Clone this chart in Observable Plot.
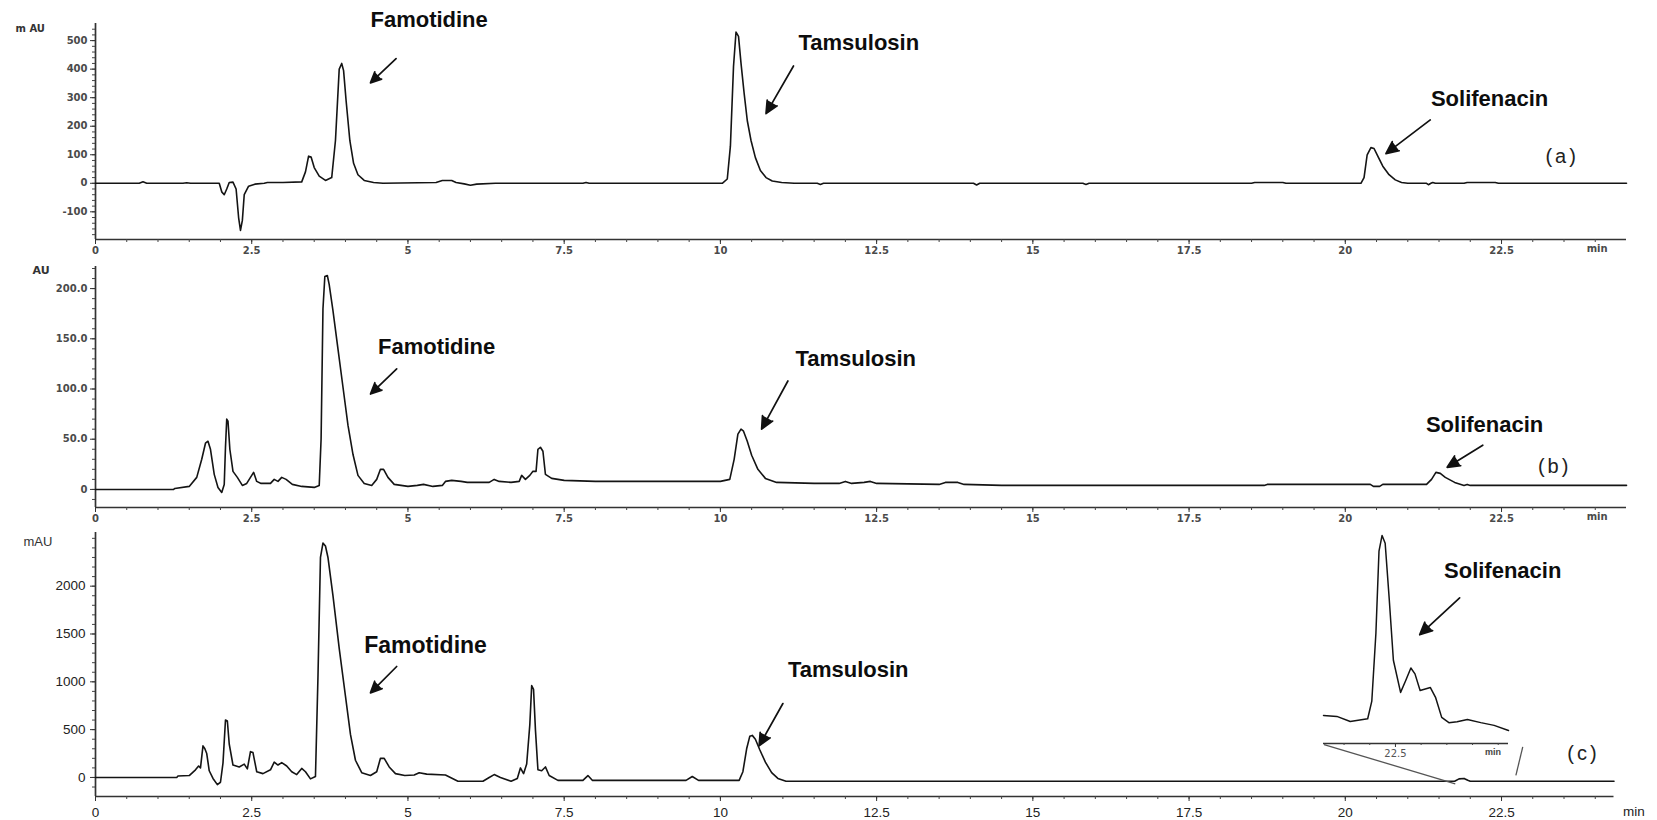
<!DOCTYPE html>
<html><head><meta charset="utf-8">
<script src="https://cdn.jsdelivr.net/npm/d3@7"></script>
<script src="https://cdn.jsdelivr.net/npm/@observablehq/plot@0.6"></script>
<style>
body{margin:0;background:#fff;}
#chart{position:relative;width:1657px;height:820px;overflow:hidden;background:#fff;}
</style></head><body><div id="chart"></div>
<script>
// ---------- x axis ----------
const xMajor = [0, 2.5, 5, 7.5, 10, 12.5, 15, 17.5, 20, 22.5];
const xMajorLabels = ["0", "2.5", "5", "7.5", "10", "12.5", "15", "17.5", "20", "22.5"];
const xMinor = d3.range(0.5, 24.5, 0.5);
const xUnit = "min";

// ---------- panel (a) : mAU ----------
const timeA = [0,0.7,0.76,0.82,1.4,1.46,1.52,1.98,2.02,2.06,2.1,2.14,2.2,2.25,2.29,2.32,2.35,2.38,2.45,2.55,2.7,2.75,3.0,3.3,3.36,3.41,3.45,3.5,3.58,3.68,3.78,3.84,3.9,3.94,3.97,4.01,4.07,4.13,4.2,4.3,4.45,4.6,5.45,5.55,5.7,5.77,5.9,6.0,6.1,6.4,7.8,7.85,7.9,10.03,10.11,10.16,10.21,10.25,10.29,10.33,10.38,10.43,10.49,10.56,10.64,10.73,10.83,10.98,11.18,11.55,11.6,11.65,14.05,14.1,14.15,15.8,15.85,15.9,18.5,18.55,18.8,19.0,19.05,20.25,20.3,20.35,20.41,20.46,20.52,20.6,20.7,20.8,20.9,21.0,21.3,21.33,21.37,21.4,21.44,21.9,21.95,22.4,22.45,24.5];
const signalA = [0,0,5,0,0,2,0,0,-30,-40,-20,3,4,-20,-120,-165,-130,-40,-10,-3,0,3,3,5,40,95,92,55,25,10,20,150,400,420,395,290,150,70,30,10,3,0,3,10,10,3,-2,-7,-3,0,0,3,0,0,15,130,410,530,515,420,315,220,150,90,45,20,8,3,0,0,-4,0,0,-6,0,0,-4,0,0,3,3,3,0,0,20,100,125,122,95,60,30,12,3,0,0,-5,0,3,0,0,3,3,0,0];
const yTicksA = [-100, 0, 100, 200, 300, 400, 500];
const yMinorA = d3.range(-180, 560, 20);
const unitA = "m AU";
const namesA = ["Famotidine", "Tamsulosin", "Solifenacin"];
const nameXA = [4.40, 11.25, 21.37];
const nameYA = [574, 493, 296];
const nameSizeA = [22, 22, 22];
const arrowFromXA = [4.81, 11.17, 21.36];
const arrowFromYA = [437, 411, 222];
const arrowToXA = [4.40, 10.73, 20.65];
const arrowToYA = [352, 244, 104];
const tagA = "(a)", tagXA = 23.47, tagYA = 93;

// ---------- panel (b) : AU ----------
const timeB = [0,1.25,1.27,1.5,1.62,1.7,1.76,1.8,1.84,1.9,1.96,2.02,2.06,2.08,2.1,2.12,2.15,2.2,2.27,2.35,2.42,2.48,2.53,2.58,2.65,2.8,2.86,2.92,2.98,3.05,3.15,3.3,3.5,3.58,3.61,3.64,3.67,3.71,3.74,3.8,3.88,3.96,4.04,4.12,4.2,4.3,4.42,4.5,4.56,4.61,4.68,4.78,5.0,5.15,5.25,5.4,5.55,5.6,5.7,5.85,5.95,6.3,6.38,6.46,6.65,6.78,6.82,6.88,6.95,7.0,7.05,7.08,7.12,7.16,7.2,7.3,7.5,8.0,10.0,10.15,10.22,10.28,10.33,10.37,10.43,10.5,10.6,10.72,10.9,11.5,11.9,12.0,12.1,12.3,12.4,12.5,13.5,13.6,13.8,13.9,14.5,18.7,18.75,20.4,20.45,20.55,20.6,21.3,21.38,21.45,21.52,21.6,21.75,21.9,21.95,22.0,24.5];
const signalB = [0,0,1,3,12,30,46,48,40,15,2,-3,5,42,70,68,40,18,12,4,6,12,17,8,6,6,10,8,12,10,5,3,2,4,50,180,212,213,204,178,140,102,64,35,14,6,4,10,20,20,12,5,3,4,5,3,4,8,9,8,7,7,10,8,7,8,14,10,14,18,18,40,42,38,15,11,9,8,8,10,30,55,60,58,48,34,20,11,7,6,6,8,6,7,8,6,5,7,7,5,4,4,5,5,3,3,5,5,10,17,16,12,7,4,5,4,4];
const yTicksB = [0, 50, 100, 150, 200];
const yMinorB = d3.range(-10, 221, 10);
const unitB = "AU";
const namesB = ["Famotidine", "Tamsulosin", "Solifenacin"];
const nameXB = [4.52, 11.20, 21.29];
const nameYB = [142, 130, 64];
const nameSizeB = [22, 22, 22];
const arrowFromXB = [4.82, 11.08, 22.2];
const arrowFromYB = [120, 108, 44];
const arrowToXB = [4.40, 10.66, 21.63];
const arrowToYB = [95, 60, 22];
const tagB = "(b)", tagXB = 23.35, tagYB = 23;

// ---------- panel (c) : mAU ----------
const timeC = [0,1.3,1.32,1.5,1.6,1.65,1.68,1.72,1.75,1.78,1.82,1.88,1.95,2.0,2.04,2.08,2.11,2.14,2.2,2.3,2.38,2.43,2.48,2.52,2.58,2.68,2.8,2.86,2.92,2.98,3.06,3.14,3.22,3.3,3.36,3.44,3.52,3.56,3.6,3.64,3.68,3.72,3.8,3.9,4.0,4.08,4.16,4.26,4.4,4.5,4.56,4.62,4.7,4.8,4.95,5.1,5.18,5.3,5.6,5.8,6.2,6.3,6.38,6.48,6.65,6.75,6.8,6.85,6.9,6.95,6.98,7.01,7.04,7.08,7.14,7.2,7.26,7.4,7.8,7.88,7.95,9.45,9.55,9.65,10.3,10.36,10.42,10.47,10.51,10.56,10.63,10.72,10.82,10.92,11.05,21.75,21.82,21.9,21.96,22.0,24.3];
const signalC = [0,0,15,20,80,120,100,330,300,250,70,-10,-75,-50,150,600,590,350,130,110,140,90,270,260,60,40,80,160,130,155,120,60,30,95,60,-15,10,1050,2300,2450,2420,2300,1900,1350,850,450,180,50,20,60,200,200,110,40,20,25,50,35,25,-40,-40,0,30,0,-40,-10,100,40,140,550,960,920,500,80,70,110,20,-30,-30,20,-30,-30,10,-30,-30,60,300,430,440,400,290,160,50,-10,-40,-40,-15,-10,-30,-40,-40];
const yTicksC = [0, 500, 1000, 1500, 2000];
const yMinorC = d3.range(-100, 2560, 100);
const unitC = "mAU";
const namesC = ["Famotidine", "Tamsulosin", "Solifenacin"];
const nameXC = [4.30, 11.08, 21.58];
const nameYC = [1381, 1127, 2155];
const nameSizeC = [23, 22, 22];
const arrowFromXC = [4.82, 11.0, 21.83];
const arrowFromYC = [1160, 773, 1878];
const arrowToXC = [4.40, 10.62, 21.19];
const arrowToYC = [884, 331, 1492];
const tagC = "(c)", tagXC = 23.81, tagYC = 254;
// lines joining the inset to the main trace
const zoomFromX = [19.66, 22.84], zoomFromY = [343, 320];
const zoomToX = [21.76, 22.73], zoomToY = [-66, 22];

// ---------- inset (zoom on Solifenacin in c) ----------
const timeI = [21.8,21.93,22.06,22.23,22.27,22.31,22.34,22.37,22.4,22.44,22.48,22.55,22.6,22.65,22.69,22.74,22.84,22.89,22.95,23.02,23.1,23.2,23.33,23.46,23.6];
const signalI = [7.7,7.2,4.6,6,15,50,92,100,96,67,36,19.5,25.6,32,29,20.5,22,17,6.7,4,4.5,5.6,4,2.6,0];
const xTicksI = [22.5];
const xMinorI = [22, 22.25, 22.75, 23, 23.25, 23.5];

// ---------- drawing ----------
const chart = document.getElementById("chart");
const FONT = "'Liberation Sans', Arial, sans-serif";
function place(el, left, top) {
  el.style.position = "absolute";
  el.style.left = left + "px";
  el.style.top = top + "px";
  chart.appendChild(el);
}
function rows(...cols) { return d3.zip(...cols); }

function panel(o) {
  const line = rows(o.time, o.signal);
  const names = rows(o.names, o.nameX, o.nameY, o.nameSize);
  const arrows = rows(o.ax1, o.ay1, o.ax2, o.ay2);
  const marks = [
    Plot.ruleX([0], {stroke: "#333", strokeWidth: 1.7}),
    Plot.ruleY([o.yDomain[0]], {stroke: "#333", strokeWidth: 1.7}),
    Plot.axisY({ticks: o.yMinor, tickSize: 3, tickFormat: () => "", label: null, stroke: "#444"}),
    Plot.axisY({ticks: o.yTicks, tickSize: 5, tickPadding: o.yPad, tickFormat: o.yFmt, label: null,
      stroke: "#333", fill: o.tickFill, fontSize: o.tickFont, fontWeight: o.tickWeight, fontFamily: o.tickFamily}),
    Plot.axisX({ticks: xMinor, tickSize: 3, tickFormat: () => "", label: null, stroke: "#444"}),
    Plot.axisX({ticks: xMajor, tickSize: 5, tickPadding: o.xPad, tickFormat: (d) => xMajorLabels[xMajor.indexOf(d)], label: null,
      stroke: "#333", fill: o.tickFill, fontSize: o.tickFont, fontWeight: o.tickWeight, fontFamily: o.tickFamily}),
    Plot.text([xUnit], {x: [o.unitX], frameAnchor: "bottom", dy: o.unitXdy, fontSize: o.tickFont, fill: o.tickFill, fontWeight: o.unitWeight, fontFamily: o.tickFamily}),
    Plot.text([o.unit], {frameAnchor: "top-left", textAnchor: "start", dx: o.unitDx, dy: o.unitDy, fontSize: o.unitSize, fontWeight: o.unitWeight, fill: "#333", fontFamily: o.tickFamily}),
    Plot.line(line, {x: "0", y: "1", stroke: "#141414", strokeWidth: 1.6, strokeLinejoin: "round"}),
    ...(o.extra || []),
    Plot.arrow(arrows, {x1: "0", y1: "1", x2: "2", y2: "3", stroke: "#111", fill: "#111", strokeWidth: 1.7, headLength: 12, headAngle: 50}),
    Plot.text(names, {x: (d) => d[1], y: (d) => d[2], text: (d) => d[0], fontSize: (d) => d[3], textAnchor: "start", fontWeight: "bold", fill: "#0d0d0d", fontFamily: FONT}),
    Plot.text([o.tag], {x: [o.tagX], y: [o.tagY], fontSize: 20, fill: "#222", fontFamily: FONT})
  ];
  const svg = Plot.plot({
    width: 1657, height: o.height,
    marginLeft: 95, marginRight: o.marginRight, marginTop: o.marginTop, marginBottom: o.marginBottom,
    x: {domain: [0, o.xMax]},
    y: {domain: o.yDomain},
    style: {background: "transparent", overflow: "visible", fontFamily: FONT},
    marks
  });
  svg.querySelectorAll("text").forEach((t) => {
    if (t.textContent === o.tag) t.setAttribute("letter-spacing", "3");
  });
  place(svg, 0, o.top);
}

panel({
  top: 0, height: 262, marginTop: 23, marginBottom: 23, marginRight: 31, xMax: 24.5,
  yDomain: [-197, 560], yTicks: yTicksA, yMinor: yMinorA, yFmt: (d) => String(d), yPad: 3, xPad: 2,
  tickFill: "#4a4a4a", tickFont: 10, tickWeight: "bold", tickFamily: "'DejaVu Sans', sans-serif",
  unit: unitA, unitDx: -80, unitDy: 1, unitSize: 10, unitWeight: "bold", unitX: 24.03, unitXdy: 12,
  time: timeA, signal: signalA, names: namesA, nameX: nameXA, nameY: nameYA, nameSize: nameSizeA,
  ax1: arrowFromXA, ay1: arrowFromYA, ax2: arrowToXA, ay2: arrowToYA,
  tag: tagA, tagX: tagXA, tagY: tagYA
});

panel({
  top: 262, height: 262, marginTop: 4, marginBottom: 17, marginRight: 31, xMax: 24.5,
  yDomain: [-18, 222], yTicks: yTicksB, yMinor: yMinorB, yFmt: (d) => d === 0 ? "0" : d.toFixed(1), yPad: 3, xPad: 2,
  tickFill: "#4a4a4a", tickFont: 10, tickWeight: "bold", tickFamily: "'DejaVu Sans', sans-serif",
  unit: unitB, unitDx: -63, unitDy: 0, unitSize: 11, unitWeight: "bold", unitX: 24.03, unitXdy: 12,
  time: timeB, signal: signalB, names: namesB, nameX: nameXB, nameY: nameYB, nameSize: nameSizeB,
  ax1: arrowFromXB, ay1: arrowFromYB, ax2: arrowToXB, ay2: arrowToYB,
  tag: tagB, tagX: tagXB, tagY: tagYB
});

panel({
  top: 524, height: 296, marginTop: 8, marginBottom: 24, marginRight: 43.5, xMax: 24.3,
  yDomain: [-199, 2561], yTicks: yTicksC, yMinor: yMinorC, yFmt: (d) => String(d), yPad: 5, xPad: 6,
  tickFill: "#222", tickFont: 13.5, tickWeight: "normal", tickFamily: FONT,
  unit: unitC, unitDx: -72, unitDy: 4, unitSize: 13, unitWeight: "normal", unitX: 24.62, unitXdy: 19,
  time: timeC, signal: signalC, names: namesC, nameX: nameXC, nameY: nameYC, nameSize: nameSizeC,
  ax1: arrowFromXC, ay1: arrowFromYC, ax2: arrowToXC, ay2: arrowToYC,
  tag: tagC, tagX: tagXC, tagY: tagYC,
  extra: [Plot.link(rows(zoomFromX, zoomFromY, zoomToX, zoomToY), {x1: "0", y1: "1", x2: "2", y2: "3", stroke: "#555", strokeWidth: 1.3})]
});

// inset
const inset = Plot.plot({
  width: 235, height: 240, marginLeft: 10, marginRight: 40, marginTop: 10, marginBottom: 20,
  x: {domain: [21.8, 23.6]},
  y: {domain: [-6.7, 101], axis: null},
  style: {background: "transparent", overflow: "visible", fontFamily: FONT},
  marks: [
    Plot.ruleY([-6.7], {stroke: "#333", strokeWidth: 1.5}),
    Plot.axisX({ticks: xMinorI, tickSize: 2, tickFormat: () => "", label: null, stroke: "#444"}),
    Plot.axisX({ticks: xTicksI, tickSize: 4, tickPadding: 2, tickFormat: (d) => String(d), label: null, stroke: "#333", fill: "#555", fontSize: 10, fontFamily: "'DejaVu Sans', sans-serif"}),
    Plot.text([xUnit], {x: [23.45], frameAnchor: "bottom", dy: 11, fontSize: 9, fontWeight: "bold", fill: "#444", fontFamily: FONT}),
    Plot.line(rows(timeI, signalI), {x: "0", y: "1", stroke: "#141414", strokeWidth: 1.5, strokeLinejoin: "round"})
  ]
});
place(inset, 1313, 523);
</script></body></html>
